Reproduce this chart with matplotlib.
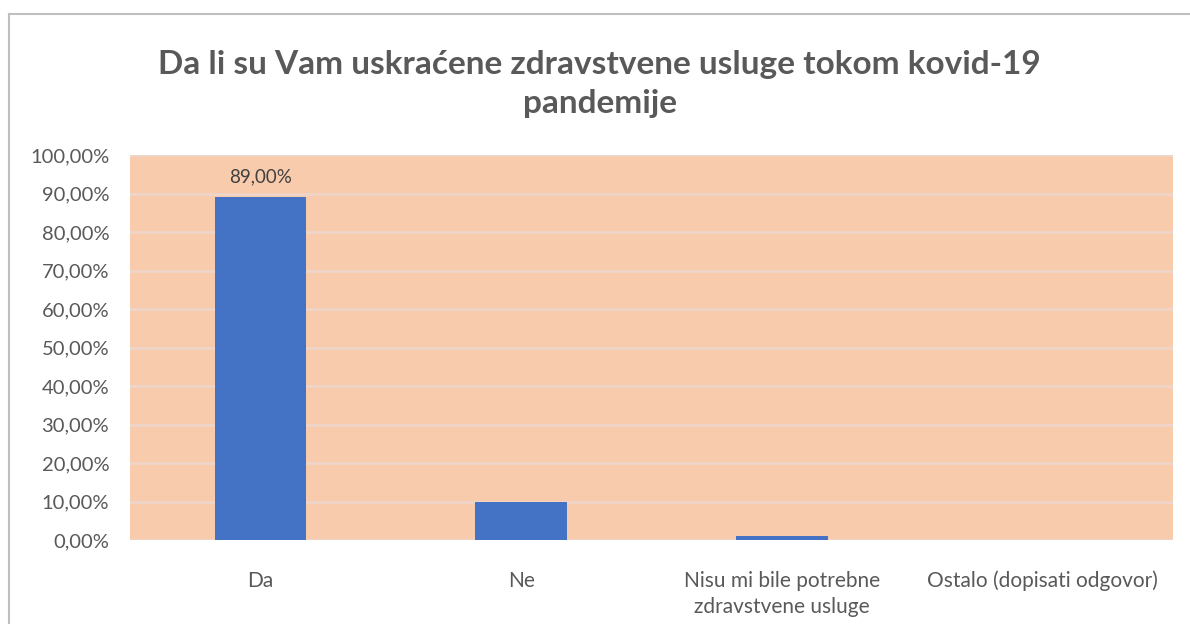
import matplotlib.pyplot as plt
from matplotlib.lines import Line2D
from matplotlib.ticker import FuncFormatter

plt.rcParams['font.family'] = ['Lato', 'DejaVu Sans']

categories = ['Da', 'Ne', 'Nisu mi bile potrebne\nzdravstvene usluge', 'Ostalo (dopisati odgovor)']
values = [0.89, 0.10, 0.01, 0.0]
labelled = [True, False, False, False]
title = 'Da li su Vam uskraćene zdravstvene usluge tokom kovid-19\npandemije'

text_color = '#595959'

fig = plt.figure(figsize=(11.9, 6.24), dpi=100)
ax = fig.add_axes([130 / 1190, 1 - 540 / 624, (1173 - 130) / 1190, (540 - 155) / 624])

ax.set_facecolor('#F8CBAD')
ax.set_axisbelow(True)
ax.yaxis.grid(True, color='#EFD5C8', linewidth=2)

x = range(len(categories))
bars = ax.bar(x, values, width=0.35, color='#4472C4')

for b, v, show in zip(bars, values, labelled):
    if show:
        ax.text(b.get_x() + b.get_width() / 2, v + 0.03,
                f'{v * 100:.2f}%'.replace('.', ','),
                ha='center', va='bottom', fontsize=13.5, color='#404040')

ax.set_xlim(-0.5, len(categories) - 0.5)
ax.set_ylim(0, 1.0)
ax.set_yticks([i / 10 for i in range(11)])
ax.yaxis.set_major_formatter(FuncFormatter(lambda v, p: f'{v * 100:.2f}%'.replace('.', ',')))
ax.set_xticks(list(x))
ax.set_xticklabels(categories, va='top', linespacing=1.4)
ax.tick_params(axis='both', length=0, labelcolor=text_color)
ax.tick_params(axis='x', pad=22, labelsize=15)
ax.tick_params(axis='y', pad=15, labelsize=14.5)
for s in ax.spines.values():
    s.set_visible(False)

fig.text(0.504, 1 - 84 / 624, title, ha='center', va='center', fontsize=24,
         fontweight='bold', color=text_color, linespacing=1.45)

# chart border (left and top edges visible)
fig.add_artist(Line2D([9 / 1190, 9 / 1190], [0, 1 - 14 / 624], color='#BFBFBF', linewidth=1.5))
fig.add_artist(Line2D([9 / 1190, 1], [1 - 14 / 624, 1 - 14 / 624], color='#BFBFBF', linewidth=1.5))

fig.savefig('out.png', dpi=100)
